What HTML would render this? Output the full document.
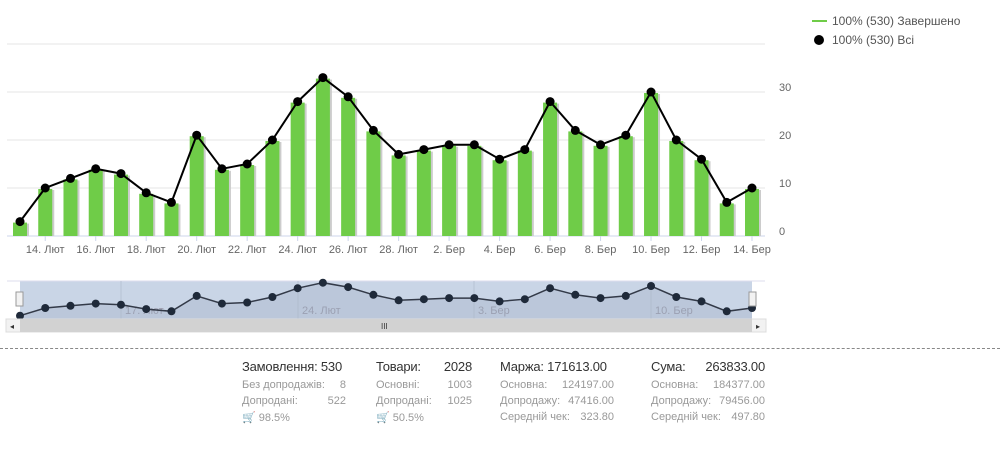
<!DOCTYPE html>
<html><head><meta charset="utf-8">
<style>
body{margin:0;background:#fff;width:1000px;height:476px;overflow:hidden;font-family:"Liberation Sans",sans-serif;position:relative}
svg{position:absolute;left:0;top:0}
.stat{position:absolute;top:359px;font-size:13px;color:#333;white-space:nowrap}
.stat .h{font-size:13px;color:#333;margin-bottom:5px;letter-spacing:-0.2px;white-space:nowrap}
.stat .r{font-size:11px;color:#999;height:16px;display:flex;justify-content:space-between;white-space:nowrap}
</style></head><body>
<svg id="chart" width="1000" height="345"></svg>
<div style="position:absolute;left:0;top:348px;width:1000px;border-top:1px dashed #888"></div>

<div class="stat" style="left:242px;width:104px">
<div class="h">Замовлення: 530</div>
<div class="r"><span>Без допродажів:</span><span>8</span></div>
<div class="r"><span>Допродані:</span><span>522</span></div>
<div class="r"><span>🛒 98.5%</span></div>
</div>
<div class="stat" style="left:376px;width:96px">
<div class="h" style="display:flex;justify-content:space-between"><span>Товари:</span><span>2028</span></div>
<div class="r"><span>Основні:</span><span>1003</span></div>
<div class="r"><span>Допродані:</span><span>1025</span></div>
<div class="r"><span>🛒 50.5%</span></div>
</div>
<div class="stat" style="left:500px;width:114px">
<div class="h">Маржа: 171613.00</div>
<div class="r"><span>Основна:</span><span>124197.00</span></div>
<div class="r"><span>Допродажу:</span><span>47416.00</span></div>
<div class="r"><span>Середній чек:</span><span>323.80</span></div>
</div>
<div class="stat" style="left:651px;width:114px">
<div class="h" style="display:flex;justify-content:space-between"><span>Сума:</span><span>263833.00</span></div>
<div class="r"><span>Основна:</span><span>184377.00</span></div>
<div class="r"><span>Допродажу:</span><span>79456.00</span></div>
<div class="r"><span>Середній чек:</span><span>497.80</span></div>
</div>

<script>
const days = ["13","14","15","16","17","18","19","20","21","22","23","24","25","26","27","28","1","2","3","4","5","6","7","8","9","10","11","12","13","14"];
const months = ["Лют","Лют","Лют","Лют","Лют","Лют","Лют","Лют","Лют","Лют","Лют","Лют","Лют","Лют","Лют","Лют","Бер","Бер","Бер","Бер","Бер","Бер","Бер","Бер","Бер","Бер","Бер","Бер","Бер","Бер"];
const completed = [3,10,12,14,13,9,7,21,14,15,20,28,33,29,22,17,18,19,19,16,18,28,22,19,21,30,20,16,7,10];
const all = [3,10,12,14,13,9,7,21,14,15,20,28,33,29,22,17,18,19,19,16,18,28,22,19,21,30,20,16,7,10];
const yTicks = [0,10,20,30,40];

const NS="http://www.w3.org/2000/svg";
const svg=document.getElementById('chart');
function mk(t,a,name,parent){const e=document.createElementNS(NS,t);for(const k in a)e.setAttribute(k,a[k]);


(parent||svg).appendChild(e);return e;}
const x0=20,x1=752;
const xs=i=>x0+i*(x1-x0)/(all.length-1);
const ys=v=>236-v*4.8;
const nys=v=>319-v*1.1;

yTicks.forEach(t=>{
  mk('line',{x1:7,x2:765,y1:ys(t),y2:ys(t),stroke:t===0?'#ccd6eb':'#e6e6e6','stroke-width':1},'gridline');
  if(t<40){const tx=mk('text',{x:779,y:ys(t)-1,'font-size':11,fill:'#666'},'y-tick-label');tx.textContent=t;}
});
completed.forEach((v,i)=>{
  mk('rect',{x:xs(i)-6,y:ys(v)+2,width:15,height:236-ys(v)-2,fill:'#ccc'},'bar-shadow');
  mk('rect',{x:xs(i)-7,y:ys(v)+1,width:14,height:236-ys(v)-1,fill:'#6fcc48'},'bar');
});
all.forEach((v,i)=>{
  if(i%2===1){
    mk('line',{x1:xs(i),x2:xs(i),y1:236,y2:241,stroke:'#ccd6eb'},'x-tick');
    const t=mk('text',{x:xs(i),y:253,'font-size':11,fill:'#666','text-anchor':'middle'},'x-tick-label');
    t.textContent=days[i]+'. '+months[i];
  }
});
mk('polyline',{points:all.map((v,i)=>xs(i)+','+ys(v)).join(' '),fill:'none',stroke:'#000','stroke-width':2},'all-line');
all.forEach((v,i)=>mk('circle',{cx:xs(i),cy:ys(v),r:4.5,fill:'#000'},'all-point'));

mk('rect',{x:20,y:281,width:732,height:38,fill:'#c9d5e6'},'navigator-range');
mk('line',{x1:7,x2:765,y1:281,y2:281,stroke:'#dde'},'navigator-top');
[[121,'17. Лют'],[298,'24. Лют'],[474,'3. Бер'],[651,'10. Бер']].forEach(([x,l])=>{
  mk('line',{x1:x,x2:x,y1:281,y2:319,stroke:'#b8c4d4'},'navigator-grid');
  const t=mk('text',{x:x+4,y:314,'font-size':11,fill:'#99a'},'navigator-label');t.textContent=l;
});
mk('polygon',{points:'20,319 '+all.map((v,i)=>xs(i)+','+nys(v)).join(' ')+' 752,319',fill:'rgba(160,175,195,0.35)'},'navigator-area');
mk('polyline',{points:all.map((v,i)=>xs(i)+','+nys(v)).join(' '),fill:'none',stroke:'#333a48','stroke-width':1.5},'navigator-line');
all.forEach((v,i)=>mk('circle',{cx:xs(i),cy:nys(v),r:4,fill:'#1f2a3a'},'navigator-point'));
mk('rect',{x:16,y:292,width:7,height:14,fill:'#f2f2f2',stroke:'#999'},'navigator-handle-left');
mk('rect',{x:749,y:292,width:7,height:14,fill:'#f2f2f2',stroke:'#999'},'navigator-handle-right');
mk('rect',{x:6,y:319,width:760,height:13,fill:'#f2f2f2',stroke:'#ddd'},'scrollbar-track');
mk('rect',{x:20,y:319,width:732,height:13,fill:'#d2d2d2'},'scrollbar-thumb');
let t=mk('text',{x:10,y:329,'font-size':8,fill:'#333'},'scroll-left');t.textContent='◂';
t=mk('text',{x:756,y:329,'font-size':8,fill:'#333'},'scroll-right');t.textContent='▸';
t=mk('text',{x:381,y:329,'font-size':8,fill:'#333'},'scroll-grip');t.textContent='III';
mk('line',{x1:812,x2:827,y1:21,y2:21,stroke:'#6fcc48','stroke-width':2},'legend-completed-symbol');
t=mk('text',{x:832,y:25,'font-size':12,fill:'#555'},'legend-completed');t.textContent='100% (530) Завершено';
mk('circle',{cx:819,cy:40,r:5,fill:'#000'},'legend-all-symbol');
t=mk('text',{x:832,y:44,'font-size':12,fill:'#555'},'legend-all');t.textContent='100% (530) Всі';
</script>
</body></html>
